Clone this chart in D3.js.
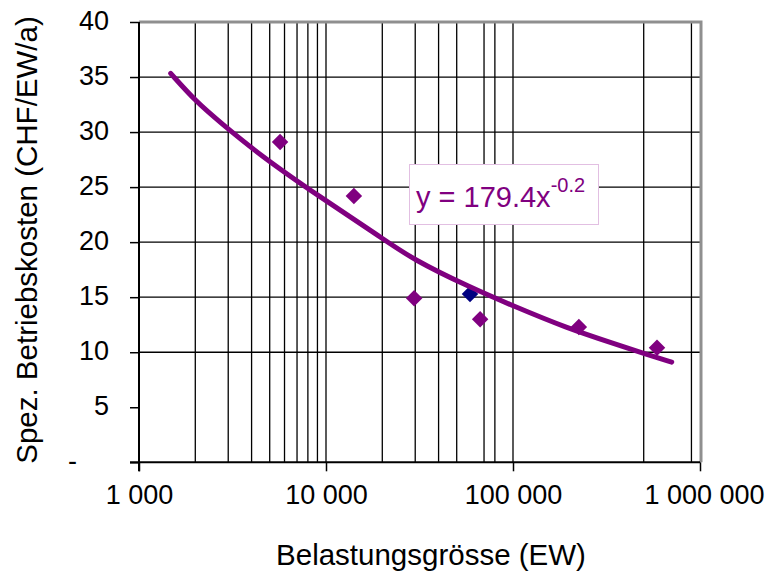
<!DOCTYPE html>
<html>
<head>
<meta charset="utf-8">
<script src="https://cdn.jsdelivr.net/npm/d3@7"></script>
<style>
  body { margin: 0; background: #fff; }
  svg { display: block; font-family: "Liberation Sans", Arial, sans-serif; }
</style>
</head>
<body>
<svg width="772" height="575"></svg>
<script>
// measured points (EW, CHF/EW/a)
const pointEW = [5680, 14100, 29600, 66700, 225000, 589000];
const pointCost = [29.1, 24.2, 14.9, 13.0, 12.3, 10.4];
// the single dark blue point
const blueEW = [58900];
const blueCost = [15.3];

// trend line
const trendEW = [1477, 2035, 2712, 4436, 9290, 19450, 29300, 58900, 100400, 193600, 343600, 518800, 706000];
const trendCost = [35.33, 32.7, 30.9, 27.9, 24.1, 20.5, 18.4, 15.9, 14.2, 12.2, 10.8, 9.8, 9.1];

const xTicks = [1000, 10000, 100000, 1000000];
const xTickLabels = ["1 000", "10 000", "100 000", "1 000 000"];
const xGrid = [2000, 3000, 4000, 5000, 6000, 7000, 8000, 9000, 10000,
  20000, 30000, 40000, 50000, 70000, 80000, 100000, 500000, 900000];
const yTicks = [0, 5, 10, 15, 20, 25, 30, 35, 40];
const yGrid = [10, 15, 20, 25, 30, 35];

const equation = "y = 179.4x";
const equationExp = "-0.2";

const purple = "#800080";
const svg = d3.select("svg");

const plotLeft = 139, plotRight = 700, plotTop = 22, plotBottom = 462.3;
let x = d3.scaleLog().domain([1000, 1000000]).range([plotLeft, plotRight]);
let y = d3.scaleLinear().domain([0, 40]).range([plotBottom, plotTop]);

// grid
const grid = svg.append("g").attr("stroke", "#000").attr("stroke-width", 1.3);
grid.selectAll("line.v").data(xGrid).enter().append("line")
  .attr("x1", d => x(d)).attr("x2", d => x(d))
  .attr("y1", plotTop).attr("y2", plotBottom);
grid.selectAll("line.h").data(yGrid).enter().append("line")
  .attr("x1", plotLeft).attr("x2", plotRight)
  .attr("y1", d => y(d)).attr("y2", d => y(d));

// plot area border (grey, top and right)
svg.append("path")
  .attr("d", `M${plotLeft},${plotTop}H${plotRight + 1}V${plotBottom}`)
  .attr("fill", "none").attr("stroke", "#8f8f8f").attr("stroke-width", 3);

// axes
let xAxis = d3.axisBottom(x).tickValues(xTicks)
  .tickFormat((d, i) => xTickLabels[i]).tickSize(9).tickPadding(14);
let yAxis = d3.axisLeft(y).tickValues(yTicks)
  .tickFormat(d => d === 0 ? "-" : d).tickSize(9).tickPadding(21);

const gx = svg.append("g").attr("transform", `translate(0,${plotBottom})`).call(xAxis);
const gy = svg.append("g").attr("transform", `translate(${plotLeft},0)`).call(yAxis);

[gx, gy].forEach(g => {
  g.select(".domain").attr("stroke", "#000").attr("stroke-width", 2);
  g.selectAll(".tick line").attr("stroke", "#000").attr("stroke-width", 1.5);
  g.selectAll(".tick text").attr("fill", "#000")
    .style("font-size", "27px").style("font-family", "'Liberation Sans', Arial, sans-serif");
});
gx.select(".domain").attr("d", `M${plotLeft - 9},0H${plotRight}`);
gx.selectAll(".tick text").attr("dy", "0.71em");
gx.selectAll(".tick text").filter(d => d === 1000000).attr("dx", 4);
gy.select(".domain").attr("d", `M0,${plotTop}V${plotBottom + 9}`);
gy.selectAll(".tick text").attr("dy", "0.28em")
  .filter(d => d === 0).attr("dx", -32);

// axis titles
svg.append("text")
  .attr("x", 431).attr("y", 565)
  .attr("text-anchor", "middle")
  .style("font-size", "29.5px")
  .text("Belastungsgrösse (EW)");

svg.append("text")
  .attr("transform", "translate(37,240) rotate(-90)")
  .attr("text-anchor", "middle")
  .style("font-size", "29.5px")
  .text("Spez. Betriebskosten (CHF/EW/a)");

// points
const diamond = d3.symbol().type(d3.symbolSquare).size(136);
svg.append("g").selectAll("path")
  .data(pointEW.map((d, i) => ({ x: d, y: pointCost[i] })))
  .enter().append("path")
  .attr("d", diamond)
  .attr("fill", purple)
  .attr("transform", d => `translate(${x(d.x)},${y(d.y)}) rotate(45)`);

svg.append("g").selectAll("path")
  .data(blueEW.map((d, i) => ({ x: d, y: blueCost[i] })))
  .enter().append("path")
  .attr("d", diamond)
  .attr("fill", "#000080")
  .attr("transform", d => `translate(${x(d.x)},${y(d.y)}) rotate(45)`);

// trend line
let line = d3.line()
  .x(d => x(d.x))
  .y(d => y(d.y))
  .curve(d3.curveBasis);

svg.append("path")
  .datum(trendEW.map((d, i) => ({ x: d, y: trendCost[i] })))
  .attr("d", line)
  .attr("fill", "none")
  .attr("stroke", purple)
  .attr("stroke-width", 5)
  .attr("stroke-linecap", "round");

// equation label
svg.append("rect")
  .attr("x", 409.5).attr("y", 164.5).attr("width", 189).attr("height", 60)
  .attr("fill", "#fff").attr("stroke", "#e2bfe2").attr("stroke-width", 1);

const eq = svg.append("text")
  .attr("x", 416).attr("y", 207)
  .attr("fill", purple)
  .style("font-size", "29px");
eq.append("tspan").text(equation);
eq.append("tspan")
  .attr("dy", -15)
  .style("font-size", "20px")
  .text(equationExp);
</script>
</body>
</html>
